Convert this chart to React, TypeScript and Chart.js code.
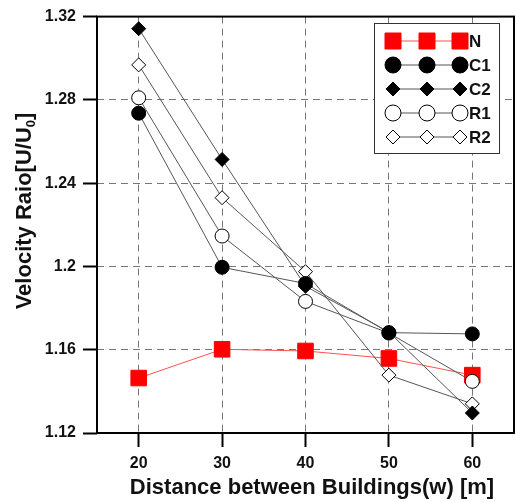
import React, { useEffect, useRef } from "react";
import { Chart, registerables } from "chart.js";

Chart.register(...registerables);

const distances = [20, 30, 40, 50, 60];
const seriesN = [1.1464, 1.1602, 1.1594, 1.1558, 1.1478];
const seriesC1 = [1.2736, 1.1996, 1.1918, 1.1682, 1.1676];
const seriesC2 = [1.3142, 1.2514, 1.1905, 1.1685, 1.1296];
const seriesR1 = [1.281, 1.2146, 1.1832, 1.168, 1.1448];
const seriesR2 = [1.2968, 1.2330, 1.1975, 1.1478, 1.1340];
const xTicks = [20, 30, 40, 50, 60];
const xTickLabels = ["20", "30", "40", "50", "60"];
const yTicks = [1.12, 1.16, 1.2, 1.24, 1.28, 1.32];
const yTickLabels = ["1.12", "1.16", "1.2", "1.24", "1.28", "1.32"];
const legendLabels = ["N", "C1", "C2", "R1", "R2"];

const FONT = "'Liberation Sans', Arial, sans-serif";

type Mk = { shape: string; fill: string; stroke: string; line: string };
const markers: Mk[] = [
  { shape: "square", fill: "#ff0000", stroke: "#ff0000", line: "#ff5050" },
  { shape: "circle", fill: "#000000", stroke: "#000000", line: "#555555" },
  { shape: "diamond", fill: "#000000", stroke: "#000000", line: "#555555" },
  { shape: "circle", fill: "#ffffff", stroke: "#000000", line: "#555555" },
  { shape: "diamond", fill: "#ffffff", stroke: "#000000", line: "#555555" },
];

function drawMarker(ctx: CanvasRenderingContext2D, shape: string, x: number, y: number, s: number, fill: string, stroke: string) {
  ctx.beginPath();
  if (shape === "square") {
    ctx.rect(x - s, y - s, 2 * s, 2 * s);
  } else if (shape === "circle") {
    ctx.arc(x, y, s, 0, Math.PI * 2);
  } else {
    ctx.moveTo(x, y - s);
    ctx.lineTo(x + s, y);
    ctx.lineTo(x, y + s);
    ctx.lineTo(x - s, y);
    ctx.closePath();
  }
  ctx.fillStyle = fill;
  ctx.fill();
  ctx.lineWidth = 1;
  ctx.strokeStyle = stroke;
  ctx.stroke();
}

const framePlugin = {
  id: "frame",
  beforeDatasetsDraw(chart: any) {
    const { ctx, chartArea: a } = chart;
    ctx.save();
    ctx.strokeStyle = "#000";
    ctx.lineWidth = 2;
    ctx.strokeRect(a.left, a.top, a.right - a.left, a.bottom - a.top);
    ctx.restore();
  },
  afterDraw(chart: any) {
    const { ctx, chartArea: a } = chart;
    const xs = chart.scales.x;
    ctx.save();
    // x tick labels
    ctx.fillStyle = "#111";
    ctx.font = `bold 16px ${FONT}`;
    ctx.textAlign = "center";
    ctx.textBaseline = "middle";
    xTicks.forEach((v, i) => {
      ctx.fillText(xTickLabels[i], xs.getPixelForValue(v), a.bottom + 31);
    });
    // x title
    ctx.font = `bold 22px ${FONT}`;
    ctx.fillText("Distance between Buildings(w) [m]", 312, 488);
    // y title with subscript
    ctx.translate(25, 211);
    ctx.rotate(-Math.PI / 2);
    const main = "Velocity Raio[U/U";
    const sub = "0";
    const end = "]";
    ctx.font = `bold 22px ${FONT}`;
    const wMain = ctx.measureText(main).width;
    const wEnd = ctx.measureText(end).width;
    ctx.font = `bold 13px ${FONT}`;
    const wSub = ctx.measureText(sub).width;
    const total = wMain + wSub + wEnd;
    const x0 = -total / 2;
    ctx.textAlign = "left";
    ctx.textBaseline = "middle";
    ctx.font = `bold 22px ${FONT}`;
    ctx.fillText(main, x0, 0);
    ctx.font = `bold 13px ${FONT}`;
    ctx.fillText(sub, x0 + wMain, 6);
    ctx.font = `bold 22px ${FONT}`;
    ctx.fillText(end, x0 + wMain + wSub, 0);
    ctx.restore();

    // legend
    ctx.save();
    const bx = 374, by = 23, bw = 125, bh = 130;
    ctx.fillStyle = "#fff";
    ctx.fillRect(bx, by, bw, bh);
    ctx.strokeStyle = "#333";
    ctx.lineWidth = 1;
    ctx.strokeRect(bx + 0.5, by + 0.5, bw, bh);
    const lx = [393, 427, 460];
    legendLabels.forEach((lab, i) => {
      const y = 41 + i * 24;
      const m = markers[i];
      ctx.strokeStyle = m.line;
      ctx.lineWidth = 1;
      ctx.beginPath();
      ctx.moveTo(lx[0], y);
      ctx.lineTo(lx[2], y);
      ctx.stroke();
      const s = m.shape === "square" ? 8 : m.shape === "circle" ? 8 : 7;
      lx.forEach((x) => drawMarker(ctx, m.shape, x, y, s, m.fill, m.stroke));
      ctx.fillStyle = "#111";
      ctx.font = `bold 17px ${FONT}`;
      ctx.textAlign = "left";
      ctx.textBaseline = "middle";
      ctx.fillText(lab, 469, y + 1);
    });
    ctx.restore();
  },
};

function mkDataset(label: string, data: number[], i: number, order: number) {
  const m = markers[i];
  return {
    label,
    data: data.map((v, k) => ({ x: distances[k], y: v })),
    borderColor: m.line,
    borderWidth: 1,
    pointStyle: m.shape === "square" ? "rect" : m.shape === "circle" ? "circle" : "rectRot",
    pointRadius: m.shape === "square" ? 11 : 7,
    pointBackgroundColor: m.fill,
    pointBorderColor: m.stroke,
    pointBorderWidth: 1,
    fill: false,
    tension: 0,
    order,
  };
}

export default function App() {
  const ref = useRef<HTMLCanvasElement>(null);
  useEffect(() => {
    if (!ref.current) return;
    const gridCommon = {
      color: "#777",
      lineWidth: 1,
      drawTicks: true,
      tickLength: 14,
      tickColor: "#000",
      tickWidth: 2,
      tickBorderDash: [],
    };
    const borderCommon = { display: false, dash: [7, 5] };
    const chart = new Chart(ref.current, {
      type: "line",
      data: {
        datasets: [
          mkDataset("C1", seriesC1, 1, 1),
          mkDataset("C2", seriesC2, 2, 2),
          mkDataset("R1", seriesR1, 3, 3),
          mkDataset("R2", seriesR2, 4, 4),
          mkDataset("N", seriesN, 0, 5),
        ],
      },
      options: {
        animation: false,
        responsive: false,
        maintainAspectRatio: false,
        layout: { autoPadding: false, padding: { left: 0, top: 16, right: 2, bottom: 0 } },
        plugins: { legend: { display: false }, tooltip: { enabled: false } },
        scales: {
          x: {
            type: "linear",
            min: 15,
            max: 65,
            afterBuildTicks: (axis: any) => {
              axis.ticks = xTicks.map((v) => ({ value: v }));
            },
            afterFit: (axis: any) => {
              axis.height = 502 - 433;
            },
            grid: gridCommon,
            border: borderCommon,
            ticks: { display: false },
          },
          y: {
            type: "linear",
            min: 1.12,
            max: 1.32,
            afterBuildTicks: (axis: any) => {
              axis.ticks = yTicks.map((v) => ({ value: v }));
            },
            afterFit: (axis: any) => {
              axis.width = 97;
            },
            grid: gridCommon,
            border: borderCommon,
            ticks: {
              color: "#111",
              font: { family: FONT, size: 16, weight: "bold" },
              padding: 7,
              callback: (v: any, idx: number) => yTickLabels[idx],
            },
          },
        },
      } as any,
      plugins: [framePlugin],
    });
    return () => chart.destroy();
  }, []);
  return (
    <div style={{ position: "fixed", left: 0, top: 0, width: 516, height: 502, background: "#fff" }}>
      <canvas ref={ref} width={516} height={502} style={{ width: 516, height: 502 }} />
    </div>
  );
}
